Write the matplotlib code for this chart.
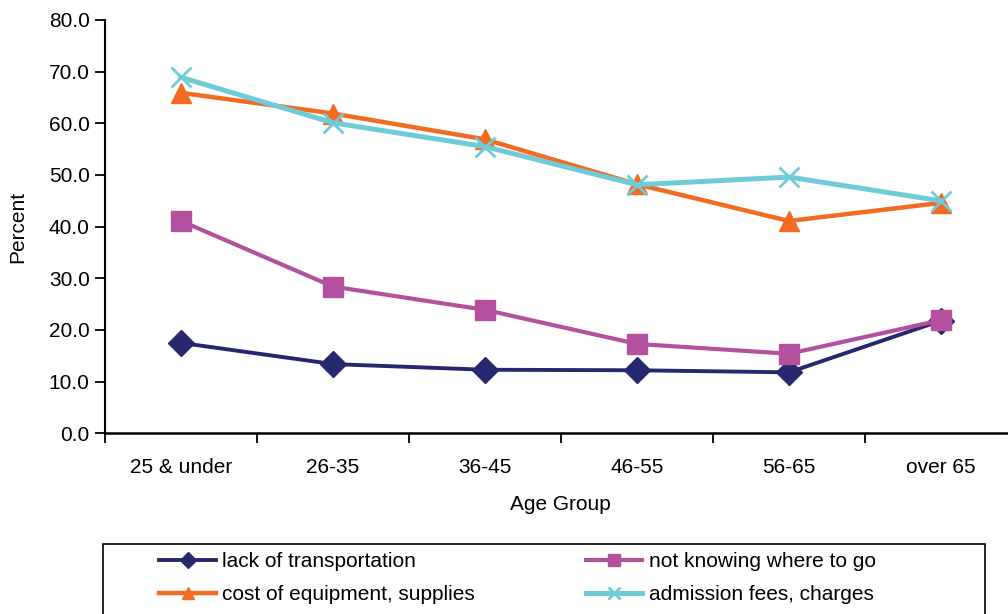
import matplotlib
matplotlib.use("Agg")
import matplotlib.pyplot as plt
from matplotlib.patches import Rectangle

plt.rcParams["font.family"] = ["Liberation Sans", "DejaVu Sans"]

# ----------------------------------------------------------------------
# Barriers to participation by age group (percent of respondents)
# ----------------------------------------------------------------------
AGE_GROUPS = ["25 & under", "26-35", "36-45", "46-55", "56-65", "over 65"]

lack_transport = [17.5, 13.4, 12.3, 12.2, 11.8, 21.8]
not_knowing = [41.1, 28.4, 23.9, 17.3, 15.4, 21.9]
cost_equipment = [65.9, 61.9, 56.9, 48.2, 41.1, 44.6]
admission_fees = [68.9, 60.1, 55.5, 48.1, 49.6, 45.0]

SERIES = [
    ("lack of transportation", lack_transport, "#27276f", "D", 13, 2.8),
    ("not knowing where to go", not_knowing, "#b4519e", "s", 15, 3.0),
    ("cost of equipment, supplies", cost_equipment, "#f36a21", "^", 15, 3.2),
    ("admission fees, charges", admission_fees, "#6fcbd8", "x", 15, 3.6),
]

W, H = 1008, 614
fig = plt.figure(figsize=(W / 100, H / 100), dpi=100)

# plot area: y 0..80 spans pixel rows 433..20, categories every ~152 px
left, right, top, bottom = 105, 1017, 20, 433.3
ax = fig.add_axes([left / W, 1 - bottom / H, (right - left) / W, (bottom - top) / H])

x = list(range(len(AGE_GROUPS)))
for label, vals, color, marker, ms, lw in SERIES:
    kw = dict(color=color, linewidth=lw, marker=marker, markersize=ms, label=label)
    if marker == "x":
        kw.update(markeredgewidth=2.0)
    else:
        kw.update(markeredgecolor=color)
    ax.plot(x, vals, **kw)

ax.set_xlim(-0.5, len(AGE_GROUPS) - 0.5)
ax.set_ylim(0, 80)
ax.set_yticks(range(0, 81, 10))
ax.set_yticklabels([f"{v:.1f}" for v in range(0, 81, 10)])
ax.set_xticks(x)
ax.set_xticklabels(AGE_GROUPS)
# category boundaries get the tick marks, labels sit between them
ax.set_xticks([i - 0.5 for i in range(len(AGE_GROUPS) + 1)], minor=True)
ax.tick_params(axis="x", which="major", length=0, pad=18, labelsize=15)
ax.tick_params(axis="x", which="minor", length=7, width=1.3)
ax.tick_params(axis="y", length=7, width=1.3, pad=4, labelsize=15)

for side in ("top", "right"):
    ax.spines[side].set_visible(False)
ax.spines["left"].set_linewidth(1.5)
ax.spines["bottom"].set_linewidth(1.8)

fig.text(18 / W, 1 - 227 / H, "Percent", rotation=90, ha="center", va="center", fontsize=15)
fig.text(560 / W, 1 - 505 / H, "Age Group", ha="center", va="center", fontsize=15)

# legend box runs off the bottom edge
fig.patches.append(Rectangle((103 / W, -0.05), (985 - 103) / W, 1 - 544 / H + 0.05,
                             transform=fig.transFigure, fill=False,
                             edgecolor="black", linewidth=1.2))
handles, labels = ax.get_legend_handles_labels()
# legend fills by column, so interleave to read row by row
order = [0, 2, 1, 3]
leg = fig.legend([handles[i] for i in order], [labels[i] for i in order],
                 ncol=2, loc="upper left",
                 bbox_to_anchor=(149 / W, 1 - 542 / H), frameon=False,
                 fontsize=15, handlelength=2.7, handletextpad=0.3,
                 columnspacing=5.35, labelspacing=0.65, markerscale=0.6,
                 borderpad=0.0)

fig.savefig("out.png", dpi=100)
